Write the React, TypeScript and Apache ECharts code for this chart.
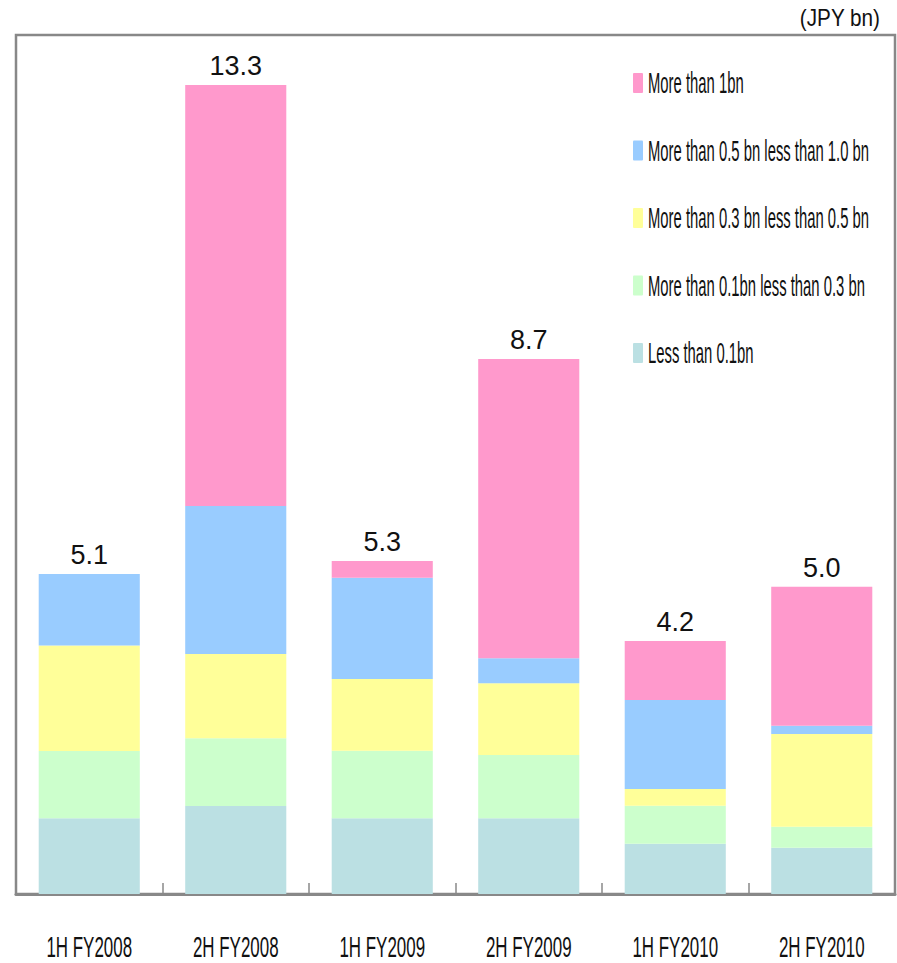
import React, { useEffect, useRef } from "react";
import * as echarts from "echarts";

// ---- data ----
const categories = ["1H FY2008", "2H FY2008", "1H FY2009", "2H FY2009", "1H FY2010", "2H FY2010"];
const totalLabels = ["5.1", "13.3", "5.3", "8.7", "4.2", "5.0"];

// stacked from bottom to top (JPY bn)
const lessThan01 = [1.243, 1.445, 1.243, 1.243, 0.826, 0.76];
const from01to03 = [1.105, 1.111, 1.11, 1.039, 0.624, 0.345];
const from03to05 = [1.729, 1.384, 1.177, 1.177, 0.274, 1.522];
const from05to10 = [1.177, 2.429, 1.663, 0.41, 1.461, 0.136];
const moreThan1 = [0, 6.911, 0.274, 4.913, 0.968, 2.282];

const seriesNames = [
  "Less than 0.1bn",
  "More than 0.1bn less than 0.3 bn",
  "More than 0.3 bn less than 0.5 bn",
  "More than 0.5 bn less than 1.0 bn",
  "More than 1bn",
];
const seriesData = [lessThan01, from01to03, from03to05, from05to10, moreThan1];
const seriesColors = ["#BBE0E3", "#CCFFCC", "#FFFF99", "#99CCFF", "#FF99CC"];
const legendOrder = [4, 3, 2, 1, 0];
const unitLabel = "(JPY bn)";

const FONT = '"Liberation Sans Narrow", "Liberation Sans", Arial, sans-serif';
const SANS = '"Liberation Sans", Arial, sans-serif';

export default function App() {
  const ref = useRef<HTMLDivElement>(null);

  useEffect(() => {
    if (!ref.current) return;
    const chart = echarts.init(ref.current, null, { renderer: "svg" });
    const option: any = {
      animation: false,
      backgroundColor: "#ffffff",
      grid: {
        left: 16,
        right: 2,
        top: 35,
        bottom: 69,
        show: true,
        borderColor: "#888888",
        borderWidth: 2.5,
        containLabel: false,
      },
      xAxis: {
        type: "category",
        data: categories,
        boundaryGap: true,
        axisLine: { show: true, lineStyle: { color: "#888888", width: 3 } },
        axisTick: { show: true, inside: true, length: 11, lineStyle: { color: "#888888", width: 1.5 } },
        axisLabel: { show: false },
        splitLine: { show: false },
      },
      yAxis: {
        type: "value",
        min: 0,
        max: 14.1,
        show: false,
        splitLine: { show: false },
      },
      series: seriesNames.map((name, si) => ({
        name,
        type: "bar",
        stack: "total",
        barWidth: "69%",
        data: seriesData[si],
        itemStyle: { color: seriesColors[si] },
        label:
          si === seriesNames.length - 1
            ? {
                show: true,
                position: "top",
                distance: 5,
                formatter: (p: any) => totalLabels[p.dataIndex],
                fontSize: 27,
                color: "#111111",
                fontFamily: FONT,
              }
            : { show: false },
      })),
    };
    chart.setOption(option);

    const graphics: any[] = [];
    // category labels, positioned through the axis scale
    categories.forEach((c, i) => {
      const p = chart.convertToPixel({ gridIndex: 0 }, [i, 0]) as number[];
      graphics.push({
        type: "text",
        x: p[0],
        y: 947,
        scaleX: 0.565,
        silent: true,
        style: { text: c, fontSize: 30, fontFamily: SANS, fill: "#111111", align: "center", verticalAlign: "middle" },
      });
    });
    // legend
    legendOrder.forEach((si, k) => {
      const cy = 83 + k * 67.5;
      graphics.push({
        type: "rect",
        silent: true,
        shape: { x: 633, y: cy - 10, width: 10, height: 20, r: 1 },
        style: { fill: seriesColors[si] },
      });
      graphics.push({
        type: "text",
        x: 648,
        y: cy,
        scaleX: 0.495,
        silent: true,
        style: { text: seriesNames[si], fontSize: 30, fontFamily: SANS, fill: "#111111", align: "left", verticalAlign: "middle" },
      });
    });
    // unit label
    graphics.push({
      type: "text",
      x: 880,
      y: 18,
      scaleX: 0.9,
      silent: true,
      style: { text: unitLabel, fontSize: 23, fontFamily: SANS, fill: "#111111", align: "right", verticalAlign: "middle" },
    });
    chart.setOption({ graphic: graphics });

    return () => chart.dispose();
  }, []);

  return (
    <div
      ref={ref}
      style={{ position: "fixed", left: 0, top: 0, width: 897, height: 963, background: "#fff" }}
    />
  );
}
